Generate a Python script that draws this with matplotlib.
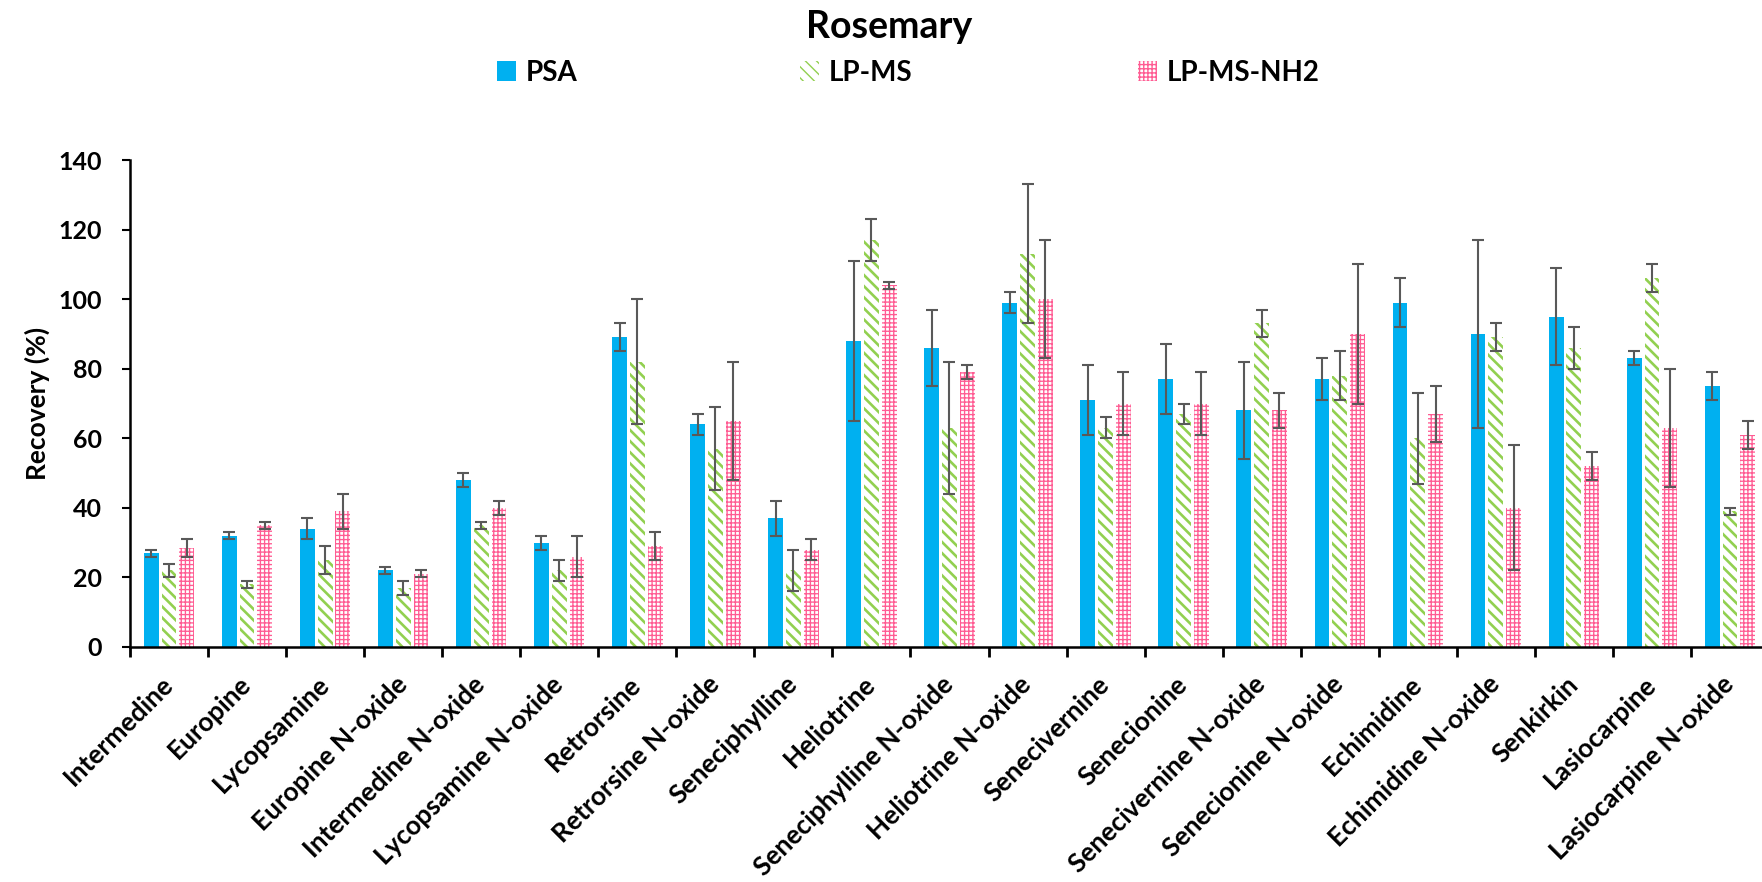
import matplotlib
matplotlib.use("Agg")
import matplotlib.pyplot as plt
import numpy as np
from matplotlib.patches import Patch

plt.rcParams['font.family'] = ['Lato', 'DejaVu Sans']

compounds = [
    "Intermedine", "Europine", "Lycopsamine", "Europine N-oxide",
    "Intermedine N-oxide", "Lycopsamine N-oxide", "Retrorsine",
    "Retrorsine N-oxide", "Seneciphylline", "Heliotrine",
    "Seneciphylline N-oxide", "Heliotrine N-oxide", "Senecivernine",
    "Senecionine", "Senecivernine N-oxide", "Senecionine N-oxide",
    "Echimidine", "Echimidine N-oxide", "Senkirkin", "Lasiocarpine",
    "Lasiocarpine N-oxide",
]

psa = [27, 32, 34, 22, 48, 30, 89, 64, 37, 88, 86, 99, 71, 77, 68, 77, 99, 90, 95, 83, 75]
psa_err = [1, 1, 3, 1, 2, 2, 4, 3, 5, 23, 11, 3, 10, 10, 14, 6, 7, 27, 14, 2, 4]

lpms = [22, 18, 25, 17, 35, 22, 82, 57, 22, 117, 63, 113, 63, 67, 93, 78, 60, 89, 86, 106, 39]
lpms_err = [2, 1, 4, 2, 1, 3, 18, 12, 6, 6, 19, 20, 3, 3, 4, 7, 13, 4, 6, 4, 1]

lpms_nh2 = [28.5, 35, 39, 21, 40, 26, 29, 65, 28, 104, 79, 100, 70, 70, 68, 90, 67, 40, 52, 63, 61]
lpms_nh2_err = [2.5, 1, 5, 1, 2, 6, 4, 17, 3, 1, 2, 17, 9, 9, 5, 20, 8, 18, 4, 17, 4]

series = ["PSA", "LP-MS", "LP-MS-NH2"]
yticks = [0, 20, 40, 60, 80, 100, 120, 140]

blue = "#00B0F0"
green = "#92D050"
pink = "#FF5C93"
err_color = "#595959"

W, H = 1762, 882
fig = plt.figure(figsize=(W / 100, H / 100), dpi=100)
# plot area runs slightly past the right edge of the canvas
ax = fig.add_axes([130 / W, 1 - 647 / H, 1639 / W, 487 / H])

x = np.arange(len(compounds))
width = 0.19
offset = 0.228

styles = [
    dict(facecolor=blue, edgecolor=blue, hatch=None, lw_hatch=1.0),
    dict(facecolor="white", edgecolor=green, hatch="\\\\\\", lw_hatch=1.9),
    dict(facecolor="white", edgecolor=pink, hatch="++++", lw_hatch=0.95),
]
values = [psa, lpms, lpms_nh2]
errors = [psa_err, lpms_err, lpms_nh2_err]


def apply_hatch_width(artist, lw):
    if hasattr(artist, "set_hatch_linewidth"):
        artist.set_hatch_linewidth(lw)


handles = []
for i, (vals, errs, st, name) in enumerate(zip(values, errors, styles, series)):
    pos = x + (i - 1) * offset
    with plt.rc_context({'hatch.linewidth': st['lw_hatch'], 'hatch.color': st['edgecolor']}):
        bars = ax.bar(pos, vals, width=width, color=st['facecolor'],
                      edgecolor=st['edgecolor'], hatch=st['hatch'], linewidth=0,
                      zorder=2)
        for b in bars:
            apply_hatch_width(b, st['lw_hatch'])
        h = Patch(facecolor=st['facecolor'], edgecolor=st['edgecolor'],
                  hatch=st['hatch'], linewidth=0, label=name)
        apply_hatch_width(h, st['lw_hatch'])
    ax.errorbar(pos, vals, yerr=errs, fmt='none', ecolor=err_color,
                elinewidth=1.5, capsize=4.4, capthick=1.5, zorder=3)
    handles.append(h)

ax.set_xlim(-0.5, len(compounds) - 0.5)
ax.set_ylim(0, 140)
ax.set_yticks(yticks)
ax.set_yticklabels([str(t) for t in yticks], fontsize=18, fontweight='bold')

ax.set_xticks(x)
ax.set_xticklabels(compounds, rotation=45, ha='right', va='center',
                   rotation_mode='anchor', fontsize=19, fontweight='bold')
ax.tick_params(axis='x', which='major', length=0, pad=24)
ax.set_xticks(np.arange(len(compounds) + 1) - 0.5, minor=True)
ax.tick_params(axis='x', which='minor', length=7, width=2, direction='out')
ax.tick_params(axis='y', length=6, width=1.5, direction='out', pad=14)

for side in ("top", "right"):
    ax.spines[side].set_visible(False)
for side in ("left", "bottom"):
    ax.spines[side].set_linewidth(1.8)

ax.set_ylabel("Recovery (%)", fontsize=19, fontweight='bold')
ax.yaxis.set_label_coords(-0.049, 0.5)

fig.text(889 / W, 1 - 38 / H, "Rosemary", ha='center', va='baseline',
         fontsize=27, fontweight='bold')

legend_x = [497, 800, 1138]
for h, lx in zip(handles, legend_x):
    fig.legend(handles=[h], loc='center left',
               bbox_to_anchor=(lx / W, 1 - 73 / H), frameon=False,
               handlelength=0.68, handleheight=0.72, handletextpad=0.35,
               borderpad=0, borderaxespad=0,
               prop={'size': 20, 'weight': 'bold'})

fig.savefig("out.png", dpi=100)
